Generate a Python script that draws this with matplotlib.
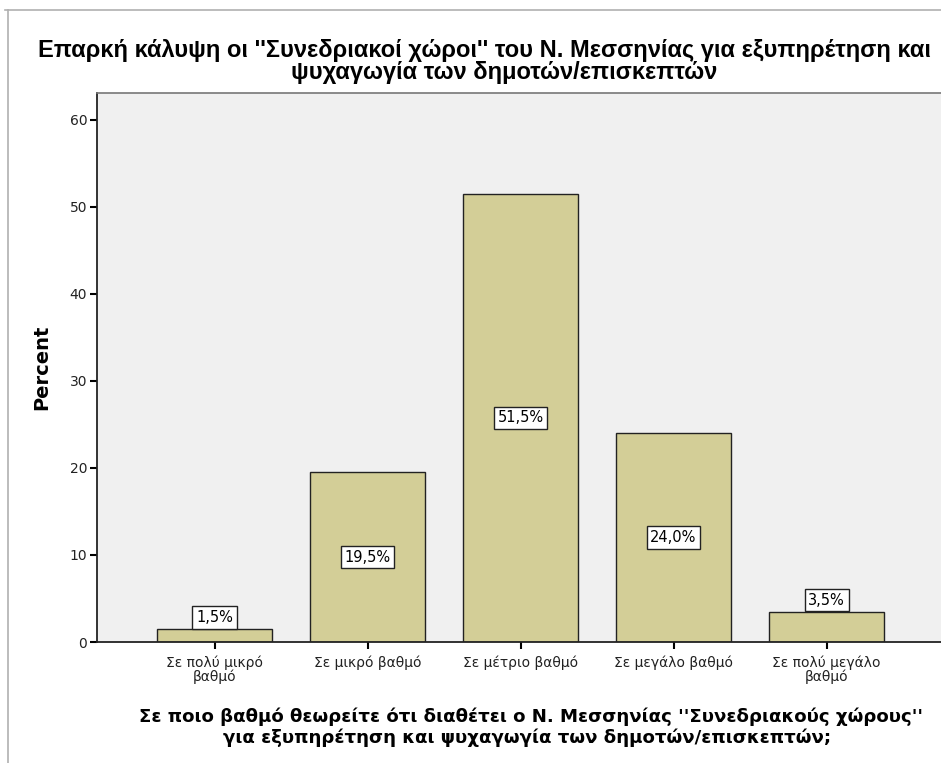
import matplotlib
matplotlib.use("Agg")
import matplotlib.pyplot as plt
from matplotlib.lines import Line2D

categories = ["Σε πολύ μικρό\nβαθμό", "Σε μικρό βαθμό", "Σε μέτριο βαθμό",
              "Σε μεγάλο βαθμό", "Σε πολύ μεγάλο\nβαθμό"]
percent = [1.5, 19.5, 51.5, 24.0, 3.5]
labels = ["1,5%", "19,5%", "51,5%", "24,0%", "3,5%"]
yticks = [0, 10, 20, 30, 40, 50, 60]

plt.rcParams['font.family'] = ['DejaVu Sans']
ARIAL = ['Liberation Sans', 'DejaVu Sans']

fig = plt.figure(figsize=(9.41, 7.63), dpi=100)
ax = fig.add_axes([97/941, 1-642/763, 1-97/941, (642-93)/763])
ax.set_facecolor('#f0f0f0')

x = list(range(len(categories)))
ax.bar(x, percent, width=0.75, color='#d3ce97', edgecolor='#222222', linewidth=1.0, zorder=2)
ax.set_xlim(-0.768, 4.748)
ax.set_ylim(0, 63.1)
ax.set_yticks(yticks)
ax.set_xticks(x)
ax.set_xticklabels(categories, fontsize=10, linespacing=0.95, color='#222222')
ax.tick_params(axis='y', labelsize=10, length=5, width=1.5, pad=2, labelcolor='#222222')
ax.tick_params(axis='x', length=5, width=1.5, pad=5)

for xi, v, lab in zip(x, percent, labels):
    if v > 10:
        ax.text(xi, v/2, lab, ha='center', va='center', fontsize=10.5,
                bbox=dict(boxstyle='square,pad=0.25', fc='white', ec='#222222', lw=1.0), zorder=3)
    else:
        ax.text(xi, v + 0.45, lab, ha='center', va='bottom', fontsize=10.5,
                bbox=dict(boxstyle='square,pad=0.25', fc='white', ec='#222222', lw=1.0), zorder=3)

for s in ['left', 'bottom']:
    ax.spines[s].set_color('#222222')
    ax.spines[s].set_linewidth(1.3)
ax.spines['top'].set_color('#777777')
ax.spines['top'].set_linewidth(1.2)
ax.spines['right'].set_visible(False)

ax.set_ylabel("Percent", fontsize=14, fontweight='bold', labelpad=13)

fig.text(484/941, 1-50/763, "Επαρκή κάλυψη οι ''Συνεδριακοί χώροι'' του Ν. Μεσσηνίας για εξυπηρέτηση και",
         ha='center', va='center', fontsize=17, fontweight='bold', family=ARIAL)
fig.text(504/941, 1-72/763, "ψυχαγωγία των δημοτών/επισκεπτών",
         ha='center', va='center', fontsize=17, fontweight='bold', family=ARIAL)

fig.text(531/941, 1-717/763, "Σε ποιο βαθμό θεωρείτε ότι διαθέτει ο Ν. Μεσσηνίας ''Συνεδριακούς χώρους''",
         ha='center', va='center', fontsize=13.1, fontweight='bold')
fig.text(527/941, 1-738/763, "για εξυπηρέτηση και ψυχαγωγία των δημοτών/επισκεπτών;",
         ha='center', va='center', fontsize=13.1, fontweight='bold')

fig.add_artist(Line2D([5/941, 1], [1-10/763, 1-10/763], transform=fig.transFigure, color='#b0b0b0', lw=1.2))
fig.add_artist(Line2D([8/941, 8/941], [1-10/763, 0], transform=fig.transFigure, color='#b0b0b0', lw=1.2))

fig.savefig("out.png", dpi=100)
